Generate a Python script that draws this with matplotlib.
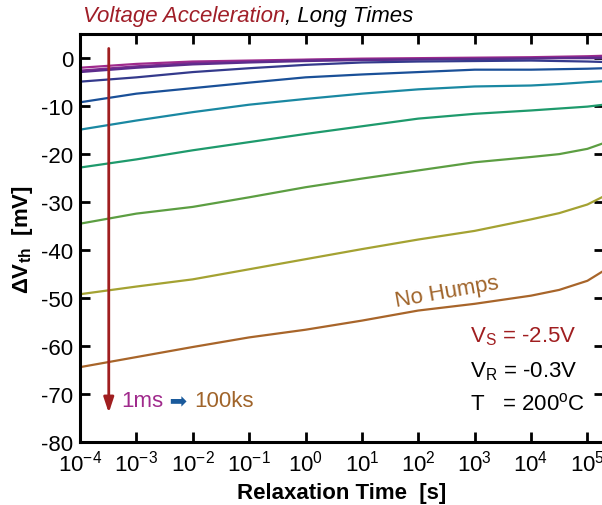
import numpy as np
import matplotlib.pyplot as plt
from matplotlib.ticker import FixedLocator, LogFormatterMathtext, NullLocator

plt.rcParams['font.family'] = ['Liberation Sans', 'DejaVu Sans']
plt.rcParams['mathtext.fontset'] = 'custom'
plt.rcParams['mathtext.rm'] = 'Liberation Sans'
plt.rcParams['mathtext.it'] = 'Liberation Sans:italic'
plt.rcParams['mathtext.bf'] = 'Liberation Sans:bold'
plt.rcParams['axes.unicode_minus'] = False

# relaxation time grid (s)
t_relax = 10.0 ** np.array([-4, -3, -2, -1, 0, 1, 2, 3, 4, 4.5, 5, 5.29])

# threshold-voltage shift (mV), one trace per stress time, 1ms -> 100ks
dvth_1 = [-2.0, -1.2, -0.7, -0.5, -0.3, -0.1, 0.0, 0.1, 0.2, 0.3, 0.4, 0.5]
dvth_2 = [-2.6, -1.7, -1.0, -0.7, -0.4, -0.3, -0.2, -0.1, 0.0, 0.1, 0.2, 0.3]
dvth_3 = [-2.9, -2.0, -1.3, -0.9, -0.6, -0.4, -0.3, -0.2, -0.1, 0.0, 0.0, 0.0]
dvth_4 = [-4.9, -4.0, -2.9, -2.1, -1.4, -0.9, -0.7, -0.6, -0.5, -0.6, -0.7, -0.8]
dvth_5 = [-9.2, -7.4, -6.25, -5.1, -4.0, -3.4, -2.9, -2.4, -2.4, -2.3, -2.2, -2.1]
dvth_6 = [-14.9, -13.0, -11.25, -9.7, -8.5, -7.4, -6.5, -5.9, -5.7, -5.4, -5.0, -4.8]
dvth_7 = [-22.8, -21.1, -19.2, -17.5, -15.8, -14.2, -12.6, -11.6, -10.9, -10.5, -10.1, -9.7]
dvth_8 = [-34.5, -32.4, -31.0, -29.0, -26.9, -25.1, -23.4, -21.7, -20.6, -20.0, -18.9, -17.7]
dvth_9 = [-49.2, -47.6, -46.1, -44.0, -41.9, -39.8, -37.8, -36.0, -33.6, -32.3, -30.5, -28.8]
dvth_10 = [-64.4, -62.3, -60.2, -58.2, -56.6, -54.7, -52.6, -51.2, -49.5, -48.3, -46.4, -44.3]

traces = [dvth_1, dvth_2, dvth_3, dvth_4, dvth_5,
          dvth_6, dvth_7, dvth_8, dvth_9, dvth_10]
colors = ['#a02a8c', '#7e2a8e', '#5c2c8c', '#343a8c', '#1a5098',
          '#1a88a2', '#1e9a6c', '#5c9e42', '#a4a232', '#a8652a']

y_ticks = [0, -10, -20, -30, -40, -50, -60, -70, -80]
x_decades = [-4, -3, -2, -1, 0, 1, 2, 3, 4, 5]

FS = 16

fig = plt.figure(figsize=(6.02, 5.06), dpi=100)
ax = fig.add_axes([0.1329, 0.1245, 0.870, 0.806])

for vals, c in zip(traces, colors):
    ax.plot(t_relax, vals, color=c, lw=1.6, solid_capstyle='round')

ax.set_xscale('log')
ax.set_xlim(1e-4, 10 ** 5.29)
ax.set_ylim(-80, 5)
ax.xaxis.set_major_locator(FixedLocator([10.0 ** d for d in x_decades]))
ax.xaxis.set_major_formatter(LogFormatterMathtext())
ax.xaxis.set_minor_locator(NullLocator())
ax.set_yticks(y_ticks)
ax.set_yticklabels([str(v) for v in y_ticks])

for s in ax.spines.values():
    s.set_linewidth(2.2)
ax.tick_params(direction='in', length=7.5, width=2, labelsize=FS,
               top=True, right=True)
ax.tick_params(axis='x', pad=5.5)
ax.tick_params(axis='y', pad=5)

ax.set_xlabel('Relaxation Time  [s]', fontsize=FS, fontweight='bold', labelpad=5)
ax.set_ylabel(r'$\mathbf{\Delta V_{th}}$  [mV]', fontsize=FS,
              fontweight='bold', labelpad=4)

# stress-time direction arrow
t_arrow = 10 ** -3.49
ax.annotate('', xy=(t_arrow, -74.5), xytext=(t_arrow, 2.6),
            arrowprops=dict(arrowstyle='-|>,head_length=0.9,head_width=0.3',
                            color='#a01e20', lw=2))
t1 = ax.text(10 ** -3.27, -72.6, '1ms', color='#a02a8c', fontsize=FS,
             va='baseline', ha='left')
t2 = ax.annotate(' \u27a1 ', xy=(1, 0), xycoords=t1, va='bottom', ha='left',
                 color='#1a5a9c', fontsize=FS - 1, family=['DejaVu Sans'])
ax.annotate('100ks', xy=(1, 0), xycoords=t2, va='bottom', ha='left',
            color='#a0642a', fontsize=FS)

ax.text(10 ** 2.5, -48.6, 'No Humps', color='#a0642a', fontsize=FS,
        rotation=10, ha='center', va='center')

ax.text(10 ** 2.91, -57.9, r'V$_\mathregular{S}$ = -2.5V', color='#a01e20',
        fontsize=FS, ha='left', va='center')
ax.text(10 ** 2.91, -65.1, r'V$_\mathregular{R}$ = -0.3V', color='black',
        fontsize=FS, ha='left', va='center')
ax.text(10 ** 2.91, -72.0, r'T   = 200$^\mathregular{o}$C', color='black',
        fontsize=FS, ha='left', va='center')

title1 = fig.text(0.138, 0.968, 'Voltage Acceleration', color='#a01e28',
                  fontsize=FS, style='italic', ha='left', va='center')
ax.annotate(', Long Times', xy=(1, 0.5), xycoords=title1, va='center',
            ha='left', color='black', fontsize=FS, style='italic',
            annotation_clip=False)

fig.savefig('out.png', dpi=100)
